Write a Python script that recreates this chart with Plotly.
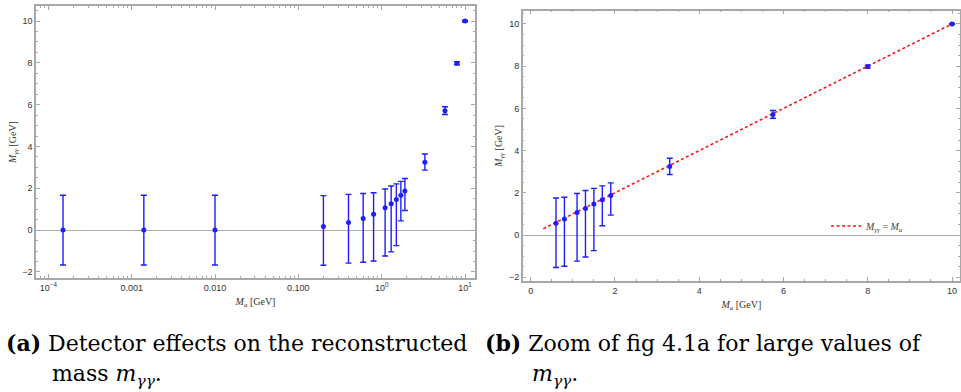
import plotly.graph_objects as go

# ---------------- data ----------------
mass_a = [1.5e-4, 1.4e-3, 0.01, 0.2, 0.4, 0.6, 0.8, 1.1, 1.3, 1.5, 1.7, 1.9, 3.3, 5.75, 8.0, 10.0]
m_gg = [0.0, 0.0, 0.0, 0.17, 0.36, 0.56, 0.76, 1.07, 1.26, 1.47, 1.67, 1.87, 3.25, 5.71, 7.98, 10.0]
m_gg_hi = [1.67, 1.67, 1.67, 1.65, 1.71, 1.75, 1.79, 1.97, 2.11, 2.21, 2.33, 2.47, 3.64, 5.90, 8.05, 10.03]
m_gg_lo = [-1.67, -1.67, -1.67, -1.68, -1.58, -1.54, -1.48, -1.24, -1.04, -0.74, 0.44, 0.94, 2.87, 5.53, 7.91, 9.97]
zoom_min_mass = 0.5
ref_line_x = [0.3, 10.0]

x_tickvals_log = [1e-4, 1e-3, 1e-2, 1e-1, 1, 10]
x_ticktext_log = ["10<sup>−4</sup>", "0.001", "0.010", "0.100", "10<sup>0</sup>", "10<sup>1</sup>"]
lin_ticks = [0, 2, 4, 6, 8, 10]
y_ticks = [-2, 0, 2, 4, 6, 8, 10]

err_plus = [h - y for h, y in zip(m_gg_hi, m_gg)]
err_minus = [y - l for l, y in zip(m_gg_lo, m_gg)]
zi = [i for i, m in enumerate(mass_a) if m >= zoom_min_mass]

W, H = 961, 392
BLUE = "rgb(30,30,255)"
FRAME = "#a8a8a8"

def px(x):
    return x / W

def py(y):
    return 1 - y / H

fig = go.Figure()

err_style = dict(type="data", symmetric=False, color=BLUE, thickness=1.4, width=3)

fig.add_trace(go.Scatter(
    x=mass_a, y=m_gg, mode="markers", xaxis="x", yaxis="y",
    marker=dict(color=BLUE, size=5),
    error_y=dict(array=err_plus, arrayminus=err_minus, **err_style),
    showlegend=False,
))

fig.add_trace(go.Scatter(
    x=ref_line_x, y=ref_line_x, mode="lines", xaxis="x2", yaxis="y2",
    line=dict(color="rgb(255,20,20)", width=1.6, dash="3px,2.5px"),
    name="<i>M</i><sub><i>γγ</i></sub> = <i>M</i><sub><i>a</i></sub>",
    showlegend=True,
))

fig.add_trace(go.Scatter(
    x=[mass_a[i] for i in zi], y=[m_gg[i] for i in zi], mode="markers",
    xaxis="x2", yaxis="y2",
    marker=dict(color=BLUE, size=5),
    error_y=dict(array=[err_plus[i] for i in zi], arrayminus=[err_minus[i] for i in zi], **err_style),
    showlegend=False,
))

tickfont = dict(family="Liberation Sans, Arial, sans-serif", size=9, color="#333")
titlefont = dict(family="Liberation Serif, Times New Roman, serif", size=10, color="#333")

common_axis = dict(
    showline=True, linecolor=FRAME, linewidth=1.5, mirror="allticks",
    ticks="inside", ticklen=4, tickcolor=FRAME, tickwidth=1,
    showgrid=False, tickfont=tickfont, automargin=False,
)

fig.update_layout(
    width=W, height=H,
    margin=dict(l=0, r=0, t=0, b=0),
    paper_bgcolor="white", plot_bgcolor="white",
    xaxis=dict(
        type="log", domain=[px(36), px(475)], range=[-4.148, 1.12],
        tickmode="array", tickvals=x_tickvals_log, ticktext=x_ticktext_log,
        minor=dict(ticks="inside", ticklen=2, tickcolor=FRAME, dtick="D1", showgrid=False),
        zeroline=False, anchor="y",
        title=dict(text="<i>M</i><sub><i>a</i></sub> [GeV]", font=titlefont, standoff=6),
        **common_axis,
    ),
    yaxis=dict(
        domain=[py(278), py(6)], range=[-2.29, 10.72],
        tickmode="array", tickvals=y_ticks,
        minor=dict(ticks="inside", ticklen=2, tickcolor=FRAME, dtick=0.5, showgrid=False),
        zeroline=True, zerolinecolor="#b0b0b0", zerolinewidth=1, anchor="x",
        title=dict(text="<i>M</i><sub><i>γγ</i></sub> [GeV]", font=titlefont, standoff=4),
        **common_axis,
    ),
    xaxis2=dict(
        domain=[px(522.7), px(960)], range=[-0.19, 10.19],
        tickmode="array", tickvals=lin_ticks,
        minor=dict(ticks="inside", ticklen=2, tickcolor=FRAME, dtick=0.5, showgrid=False),
        zeroline=False, anchor="y2",
        title=dict(text="<i>M</i><sub><i>a</i></sub> [GeV]", font=titlefont, standoff=6),
        **common_axis,
    ),
    yaxis2=dict(
        domain=[py(281), py(10.7)], range=[-2.18, 10.63],
        tickmode="array", tickvals=y_ticks,
        minor=dict(ticks="inside", ticklen=2, tickcolor=FRAME, dtick=0.5, showgrid=False),
        zeroline=True, zerolinecolor="#b0b0b0", zerolinewidth=1, anchor="x2",
        title=dict(text="<i>M</i><sub><i>γγ</i></sub> [GeV]", font=titlefont, standoff=4),
        **common_axis,
    ),
    legend=dict(
        x=px(826), y=py(226), xanchor="left", yanchor="middle",
        bgcolor="rgba(0,0,0,0)",
        font=dict(family="Liberation Serif, Times New Roman, serif", size=10, color="#444"),
    ),
)

capfont = dict(family="DejaVu Serif, Liberation Serif, serif", size=22, color="black")
captions = [
    (4, 343, "middle", "<b>(a)</b> Detector effects on the reconstructed"),
    (50, 359, "top", "mass <i>m</i><sub><i>γγ</i></sub>."),
    (483, 343, "middle", "<b>(b)</b> Zoom of fig 4.1a for large values of"),
    (530, 359, "top", "<i>m</i><sub><i>γγ</i></sub>."),
]
for cx, cy, anc, txt in captions:
    fig.add_annotation(
        x=px(cx), y=py(cy), xref="paper", yref="paper",
        xanchor="left", yanchor=anc, showarrow=False,
        text=txt, font=capfont, align="left",
    )

fig.write_html("out.html")
